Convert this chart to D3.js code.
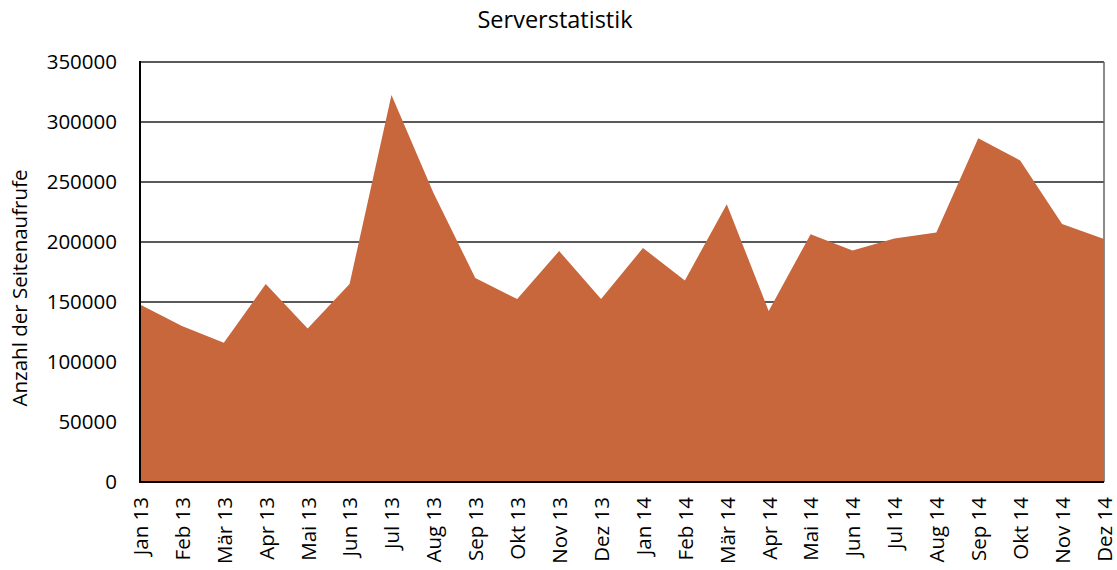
<!DOCTYPE html>
<html><head><meta charset="utf-8">
<script src="https://cdn.jsdelivr.net/npm/d3@7"></script>
<style>body{margin:0;background:#fff}svg{display:block}text{font-family:"Open Sans","Noto Sans",sans-serif;fill:#000}</style>
</head><body><svg id="c" width="1117" height="570"></svg>
<script>
const months = ["Jan 13","Feb 13","Mär 13","Apr 13","Mai 13","Jun 13","Jul 13","Aug 13","Sep 13","Okt 13","Nov 13","Dez 13","Jan 14","Feb 14","Mär 14","Apr 14","Mai 14","Jun 14","Jul 14","Aug 14","Sep 14","Okt 14","Nov 14","Dez 14"];
const views = [148000,130000,116000,165000,128000,165000,322500,241000,170000,152500,192500,152500,195000,168000,231500,142500,206500,193000,203000,208000,286500,268000,215000,202500];
const yTicks = [0,50000,100000,150000,200000,250000,300000,350000];
const title = "Serverstatistik";
const yTitle = "Anzahl der Seitenaufrufe";

const svg = d3.select("#c");
const L=140,R=1104,T=62,B=482;
const x = d3.scalePoint().domain(months).range([L,R]);
const y = d3.scaleLinear().domain([0,350000]).range([B,T]);

svg.append("text").attr("x",555).attr("y",28).attr("text-anchor","middle").attr("font-size",23.5).text(title);

// gridlines
svg.append("g").selectAll("line").data(yTicks.filter(d=>d>0)).join("line")
  .attr("x1",L).attr("x2",R).attr("y1",d=>y(d)).attr("y2",d=>y(d))
  .attr("stroke","#222").attr("stroke-width",1.6);
// right border
svg.append("line").attr("x1",R).attr("x2",R).attr("y1",T).attr("y2",B).attr("stroke","#666").attr("stroke-width",1.5);

// area
const area = d3.area().x((d,i)=>x(months[i])).y0(B).y1(d=>y(d));
svg.append("path").datum(views).attr("d",area).attr("fill","#C8663C");

// axes lines
svg.append("line").attr("x1",L).attr("x2",L).attr("y1",T-1).attr("y2",B+1).attr("stroke","#000").attr("stroke-width",2);
svg.append("line").attr("x1",L-1).attr("x2",R).attr("y1",B).attr("y2",B).attr("stroke","#000").attr("stroke-width",2);

// y axis labels
const ya = d3.axisLeft(y).tickValues(yTicks).tickSize(0).tickPadding(23).tickFormat(d=>String(d));
const gy = svg.append("g").attr("transform",`translate(${L},0)`).call(ya);
gy.select(".domain").remove();
gy.selectAll("text").attr("font-size",20.5).attr("font-family",'"Open Sans","Noto Sans",sans-serif').attr("fill","#000");

// x axis labels
const xa = d3.axisBottom(x).tickSize(0).tickPadding(0);
const gx = svg.append("g").attr("transform",`translate(0,${B})`).call(xa);
gx.select(".domain").remove();
gx.selectAll("text").attr("font-size",20.5).attr("font-family",'"Open Sans","Noto Sans",sans-serif').attr("fill","#000")
  .attr("transform","rotate(-90)").attr("text-anchor","end").attr("x",-15).attr("y",0).attr("dy","0.36em");

svg.append("text").attr("transform","translate(27,288) rotate(-90)").attr("text-anchor","middle").attr("font-size",20.5).text(yTitle);
</script></body></html>
